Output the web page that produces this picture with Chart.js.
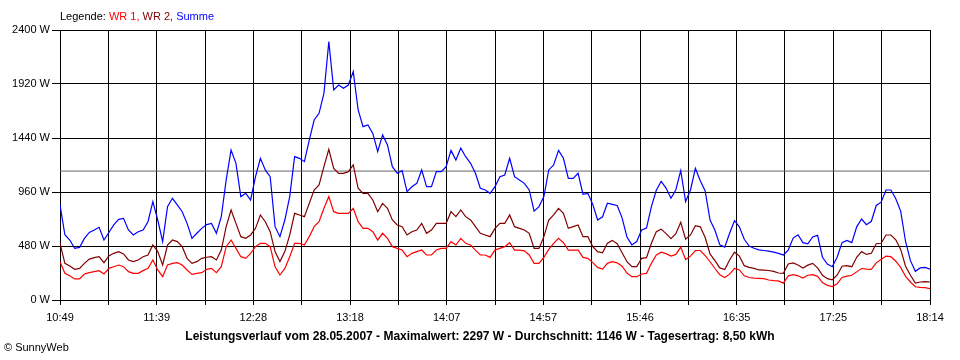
<!DOCTYPE html>
<html>
<head>
<meta charset="utf-8">
<script src="https://cdn.jsdelivr.net/npm/chart.js@4"></script>
<style>
  body { margin: 0; background: #fff; }
</style>
</head>
<body>
<canvas id="sunnyChart" width="960" height="360"></canvas>
<script>
// Leistungsverlauf 28.05.2007, one sample every 2.5 min from 10:49 to 18:14
var startTime = '10:49';
var sampleStep = 2.5;   // minutes
var spanMinutes = 445;  // 10:49 -> 18:14

var tickLabels = ['10:49', '11:39', '12:28', '13:18', '14:07', '14:57', '15:46', '16:35', '17:25', '18:14'];
var powerTicks = [0, 480, 960, 1440, 1920, 2400];

var wr1 = [
  341, 237, 216, 187, 187, 231, 243, 252, 261, 231, 281, 296, 311, 296, 252, 237, 237, 261, 281, 356,
  267, 207, 311, 326, 332, 311, 267, 228, 237, 243, 273, 281, 243, 296, 474, 533, 459, 385, 370, 415,
  474, 504, 504, 474, 296, 222, 281, 385, 504, 504, 489, 563, 652, 696, 815, 920, 785, 770, 770, 770,
  815, 696, 637, 637, 607, 533, 593, 548, 474, 459, 444, 385, 415, 430, 444, 400, 400, 444, 459, 459,
  519, 489, 548, 504, 489, 444, 400, 400, 379, 444, 459, 474, 509, 444, 444, 437, 400, 326, 326, 379,
  450, 504, 548, 509, 444, 444, 444, 379, 370, 332, 290, 275, 326, 341, 330, 300, 240, 207, 207, 231,
  237, 326, 400, 425, 412, 390, 405, 470, 360, 390, 440, 440, 395, 340, 280, 225, 200, 230, 281, 267,
  215, 200, 195, 193, 190, 178, 172, 170, 150, 215, 225, 215, 195, 220, 225, 210, 155, 130, 120, 145,
  200, 212, 220, 250, 280, 275, 272, 330, 360, 390, 385, 345, 290, 210, 160, 118, 113, 110, 101
];

var wr2 = [
  504, 326, 302, 273, 281, 326, 364, 376, 385, 332, 391, 415, 430, 409, 356, 341, 356, 385, 400, 489,
  430, 311, 489, 533, 519, 474, 370, 326, 341, 370, 380, 385, 356, 444, 652, 800, 681, 563, 548, 578,
  637, 756, 696, 607, 430, 341, 430, 578, 770, 756, 741, 859, 978, 1022, 1185, 1340, 1170, 1126, 1126, 1141,
  1200, 993, 948, 948, 889, 785, 859, 815, 711, 667, 652, 578, 607, 622, 681, 593, 622, 681, 681, 681,
  785, 741, 800, 741, 711, 652, 593, 578, 563, 637, 681, 681, 756, 652, 637, 622, 593, 459, 459, 563,
  711, 756, 815, 770, 637, 652, 667, 563, 563, 474, 430, 420, 504, 530, 500, 420, 340, 296, 296, 370,
  376, 504, 607, 630, 590, 545, 590, 690, 540, 578, 660, 650, 555, 410, 350, 285, 270, 356, 425, 390,
  305, 290, 281, 267, 265, 262, 255, 240, 237, 320, 330, 311, 285, 310, 326, 285, 220, 190, 180, 220,
  300, 305, 296, 380, 430, 405, 415, 500, 504, 578, 578, 535, 450, 300, 220, 150, 160, 163, 160
];

var summe = [
  845, 580, 533, 459, 468, 548, 601, 622, 646, 533, 600, 667, 717, 726, 622, 578, 607, 622, 696, 874,
  711, 519, 830, 904, 845, 785, 681, 548, 593, 637, 670, 681, 593, 741, 1067, 1333, 1215, 919, 948, 889,
  1096, 1259, 1156, 1096, 652, 563, 711, 919, 1274, 1259, 1230, 1422, 1600, 1659, 1837, 2297, 1867, 1911, 1882, 1911,
  2030, 1689, 1541, 1556, 1481, 1319, 1467, 1378, 1185, 1126, 1150, 963, 1007, 1037, 1156, 1007, 1007, 1141, 1141, 1185,
  1330, 1244, 1350, 1274, 1215, 1126, 993, 978, 948, 1007, 1096, 1111, 1260, 1096, 1067, 1037, 978, 790, 830, 919,
  1156, 1200, 1330, 1260, 1081, 1081, 1126, 940, 948, 850, 711, 740, 860, 850, 840, 730, 560, 490, 520, 622,
  640, 830, 975, 1055, 995, 905, 980, 1150, 875, 978, 1170, 1060, 970, 710, 620, 490, 470, 593, 705, 650,
  540, 480, 460, 445, 440, 435, 425, 415, 400, 444, 550, 580, 510, 500, 560, 575, 380, 320, 296, 380,
  510, 530, 510, 650, 720, 670, 700, 840, 870, 978, 978, 900, 790, 520, 350, 255, 285, 290, 275
];

var avgPower = 1146;
var maxPower = 2297;
var dayYield = '8,50 kWh';
var titleText = 'Leistungsverlauf vom 28.05.2007 - Maximalwert: ' + maxPower + ' W - Durchschnitt: ' +
  avgPower + ' W - Tagesertrag: ' + dayYield;

var legendParts = [
  { text: 'Legende: ', color: '#000000' },
  { text: 'WR 1, ', color: '#ff0000' },
  { text: 'WR 2, ', color: '#800000' },
  { text: 'Summe', color: '#0000ff' }
];

function toPoints(values) {
  return values.map(function (v, i) { return { x: i * sampleStep, y: v }; });
}

// 18 grid intervals, a label on every second one
var gridCount = (tickLabels.length - 1) * 2;
var gridMinutes = [];
for (var k = 0; k <= gridCount; k++) gridMinutes.push(k * spanMinutes / gridCount);

var font11 = { family: '"Liberation Sans", Arial, sans-serif', size: 11 };

var textPlugin = {
  id: 'sunnyText',
  afterDraw: function (chart) {
    var ctx = chart.ctx;
    ctx.save();
    ctx.textBaseline = 'middle';
    ctx.font = '11px "Liberation Sans", Arial, sans-serif';
    var x = 60;
    legendParts.forEach(function (p) {
      ctx.fillStyle = p.color;
      ctx.fillText(p.text, x, 17);
      x += ctx.measureText(p.text).width;
    });
    ctx.fillStyle = '#000';
    ctx.fillText('\u00A9 SunnyWeb', 4, 348);
    ctx.font = 'bold 12px "Liberation Sans", Arial, sans-serif';
    ctx.textAlign = 'center';
    ctx.fillText(titleText, 480, 337);
    ctx.restore();
  }
};

var ctx = document.getElementById('sunnyChart').getContext('2d');
var chart = new Chart(ctx, {
  type: 'line',
  data: {
    datasets: [{
      label: 'Summe',
      data: toPoints(summe),
      borderColor: '#0000ff',
      borderWidth: 1.2,
      pointRadius: 0,
      order: 1
    }, {
      label: 'WR 2',
      data: toPoints(wr2),
      borderColor: '#800000',
      borderWidth: 1.2,
      pointRadius: 0,
      order: 2
    }, {
      label: 'WR 1',
      data: toPoints(wr1),
      borderColor: '#ff0000',
      borderWidth: 1.2,
      pointRadius: 0,
      order: 3
    }, {
      label: 'Durchschnitt',
      data: [{ x: 0, y: avgPower }, { x: spanMinutes, y: avgPower }],
      borderColor: '#666666',
      borderWidth: 1,
      pointRadius: 0,
      order: 10
    }]
  },
  options: {
    responsive: false,
    animation: false,
    layout: { padding: { top: 30, right: 30, left: 0, bottom: 0 } },
    plugins: {
      legend: { display: false },
      title: { display: false },
      tooltip: { enabled: false }
    },
    scales: {
      x: {
        type: 'linear',
        min: 0,
        max: spanMinutes,
        afterBuildTicks: function (scale) {
          scale.ticks = gridMinutes.map(function (v) { return { value: v }; });
        },
        afterFit: function (scale) { scale.height = 60; },
        grid: { color: '#000', lineWidth: 1, tickLength: 5 },
        border: { color: '#000' },
        ticks: {
          autoSkip: false,
          maxRotation: 0,
          padding: 6,
          color: '#000',
          font: font11,
          callback: function (v, idx) { return idx % 2 === 0 ? tickLabels[idx / 2] : ''; }
        }
      },
      y: {
        min: 0,
        max: 2400,
        afterBuildTicks: function (scale) {
          scale.ticks = powerTicks.map(function (v) { return { value: v }; });
        },
        afterFit: function (scale) { scale.width = 60; },
        grid: { color: '#000', lineWidth: 1, tickLength: 8 },
        border: { color: '#000' },
        ticks: {
          padding: 2,
          color: '#000',
          font: font11,
          callback: function (v) { return v + ' W'; }
        }
      }
    }
  },
  plugins: [textPlugin]
});
</script>
</body>
</html>
